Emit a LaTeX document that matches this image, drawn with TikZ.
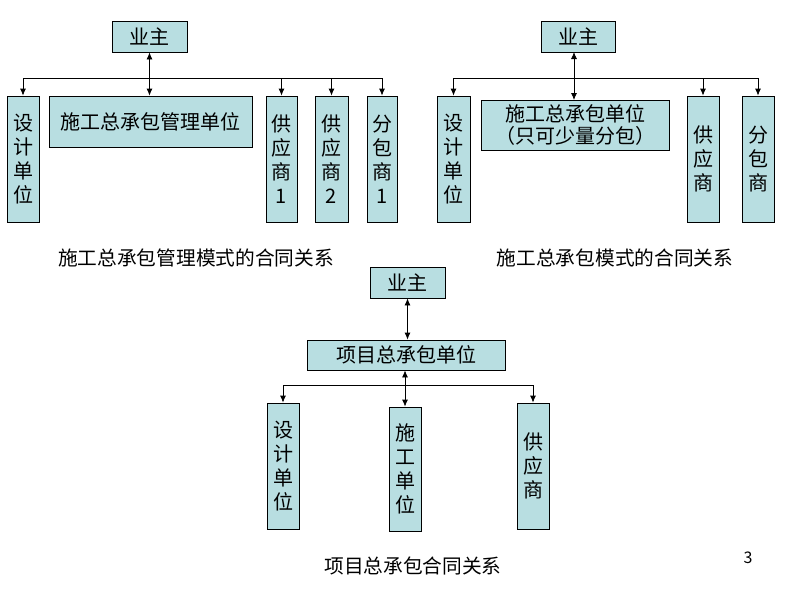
\documentclass[tikz,border=0pt]{standalone}
\usepackage{fontspec}
\setmainfont{Noto Sans CJK SC}
\usetikzlibrary{arrows.meta}
\definecolor{boxfill}{RGB}{184,222,225}
\tikzset{
  unitbox/.style={draw=black, line width=0.8pt, fill=boxfill, inner sep=0pt,
    font=\fontsize{20}{24}\selectfont, align=center},
  vbox/.style={unitbox, minimum width=32pt, minimum height=126pt},
  link/.style={line width=0.8pt, -{Latex[length=7pt,width=6pt]}},
  dlink/.style={line width=0.8pt, {Latex[length=7pt,width=6pt]}-{Latex[length=7pt,width=6pt]}},
  caption/.style={font=\fontsize{19.7}{22}\selectfont}
}
\begin{document}
\begin{tikzpicture}[x=1pt,y=-1pt]
      \useasboundingbox (0,0) rectangle (800,600);
      % left: management mode
      \node[unitbox, minimum width=75pt, minimum height=31pt] (yz1) at (149.5,36.5) {业主};
      \node[vbox] (sj1) at (23,159) {设\\计\\单\\位};
      \node[unitbox, minimum width=203pt, minimum height=51pt] (sg1) at (150.5,121.5) {施工总承包管理单位};
      \node[vbox, minimum width=31pt] (gy1) at (281.5,159) {供\\应\\商\\1};
      \node[vbox, minimum width=33pt] (gy2) at (331.5,159) {供\\应\\商\\2};
      \node[vbox, minimum width=30pt] (fb1) at (382,159) {分\\包\\商\\1};
      \coordinate (bus1) at (0,78);
      \draw[line width=0.8pt] (bus1 -| sj1) -- (bus1 -| fb1);
      \foreach \n in {sj1,gy1,gy2,fb1}
        \draw[link] (bus1 -| \n) -- (\n.north);
      \draw[dlink] (yz1.south) -- (yz1.south |- sg1.north);
      \node[caption] (cap1) at (196,258) {施工总承包管理模式的合同关系};
      % right: general contracting mode
      \node[unitbox, minimum width=74pt, minimum height=31pt] (yz2) at (578,36.5) {业主};
      \node[vbox, minimum width=33pt] (sj2) at (453.5,159) {设\\计\\单\\位};
      \node[unitbox, minimum width=188pt, minimum height=50pt,
        font=\fontsize{20}{22}\selectfont] (sg2) at (575,125) {施工总承包单位\\（只可少量分包）};
      \node[vbox] (gy3) at (703,159) {供\\应\\商};
      \node[vbox] (fb2) at (758,159) {分\\包\\商};
      \coordinate (bus2) at (0,78);
      \draw[line width=0.8pt] (bus2 -| sj2) -- (bus2 -| fb2);
      \foreach \n in {sj2,gy3,fb2}
        \draw[link] (bus2 -| \n) -- (\n.north);
      \draw[dlink] (574,52) -- (574,100);
      \node[caption] (cap2) at (615,258) {施工总承包模式的合同关系};
      % bottom: project general contracting
      \node[unitbox, minimum width=75pt, minimum height=31pt] (yz3) at (407.5,282.5) {业主};
      \node[unitbox, minimum width=198pt, minimum height=30pt] (xm) at (406,355) {项目总承包单位};
      \node[vbox] (sj3) at (283,466) {设\\计\\单\\位};
      \node[vbox, minimum height=124pt] (sg3) at (405,469) {施\\工\\单\\位};
      \node[vbox] (gy4) at (533,466) {供\\应\\商};
      \coordinate (bus3) at (0,385);
      \draw[line width=0.8pt] (bus3 -| sj3) -- (bus3 -| gy4);
      \foreach \n in {sj3,gy4}
        \draw[link] (bus3 -| \n) -- (\n.north);
      \draw[dlink] (yz3.south) -- (yz3.south |- xm.north);
      \draw[dlink] (xm.south -| sg3) -- (sg3.north);
      \node[caption] (cap3) at (413,566) {项目总承包合同关系};
      \node[font=\fontsize{16}{18}\selectfont] (pg) at (748,558) {3};
    \end{tikzpicture}
\end{document}
